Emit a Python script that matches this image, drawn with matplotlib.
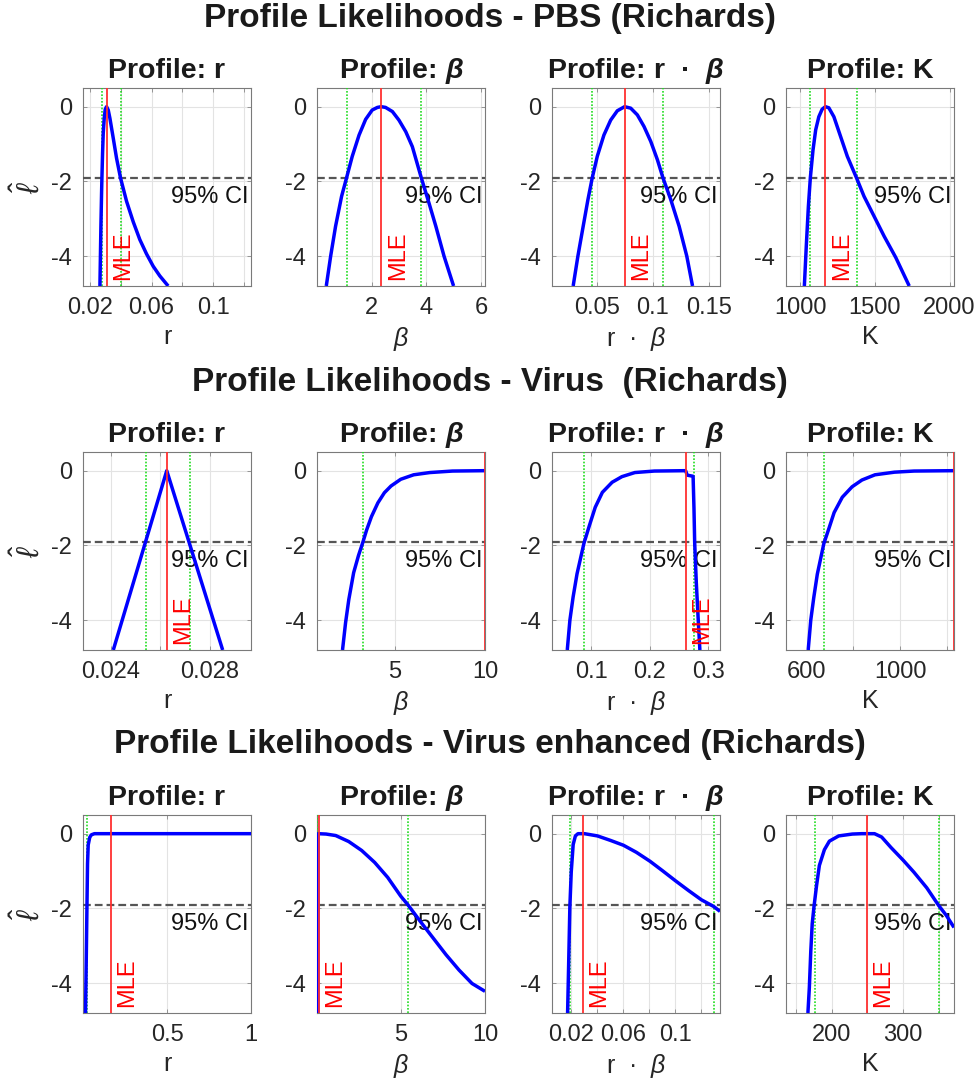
import matplotlib
matplotlib.use("Agg")
import matplotlib.pyplot as plt
import matplotlib.transforms as mtransforms

plt.rcParams['font.family'] = ['Liberation Sans', 'DejaVu Sans']
plt.rcParams['mathtext.fontset'] = 'custom'
plt.rcParams['mathtext.rm'] = 'Liberation Sans'
plt.rcParams['mathtext.it'] = 'Liberation Sans:italic'
plt.rcParams['mathtext.bf'] = 'Liberation Sans:bold'
plt.rcParams['mathtext.bfit'] = 'Liberation Sans:bold:italic'

# ---------------- data ----------------
row_titles = ['Profile Likelihoods - PBS (Richards)',
              'Profile Likelihoods - Virus  (Richards)',
              'Profile Likelihoods - Virus enhanced (Richards)']
panel_titles = ['Profile: r', r'Profile: $\mathbfit{\beta}$',
                r'Profile: r  ·  $\mathbfit{\beta}$', 'Profile: K']
x_labels = ['r', r'$\beta$', r'r  ·  $\beta$', 'K']
y_label = r'$\hat{\ell}$'
ci_threshold = -1.92

# PBS
pbs_r_x = [0.02649, 0.02713, 0.02756, 0.02778, 0.02821, 0.02864, 0.02929, 0.02994, 0.0308,
           0.03189, 0.03297, 0.03513, 0.03729, 0.03988, 0.04377, 0.0481, 0.05242, 0.05674,
           0.06106, 0.06538, 0.0708]
pbs_r_y = [-4.8, -3.2, -2.31, -1.91, -1.24, -0.71, -0.31, -0.07, 0.0,
           -0.09, -0.31, -0.84, -1.38, -1.91, -2.53, -3.08, -3.56, -3.94,
           -4.27, -4.53, -4.8]
pbs_beta_x = [0.34, 0.50, 0.68, 0.90, 1.08, 1.29, 1.54, 1.78, 2.02, 2.21, 2.35,
              2.51, 2.76, 3.00, 3.25, 3.49, 3.82, 4.10, 4.35, 4.65, 5.0]
pbs_beta_y = [-4.8, -4.0, -3.2, -2.4, -1.91, -1.33, -0.76, -0.34, -0.09, -0.02, 0.0,
              -0.02, -0.13, -0.36, -0.67, -1.07, -1.91, -2.58, -3.2, -4.0, -4.8]
pbs_rb_x = [0.0292, 0.0334, 0.0381, 0.0423, 0.0461, 0.0506, 0.0565, 0.0625, 0.0684, 0.0749,
            0.0803, 0.0862, 0.0921, 0.0981, 0.104, 0.109, 0.1159, 0.1233, 0.1301, 0.1352]
pbs_rb_y = [-4.8, -4.0, -3.2, -2.49, -1.91, -1.33, -0.76, -0.36, -0.11, 0.0,
            -0.04, -0.22, -0.53, -0.93, -1.42, -1.91, -2.49, -3.2, -4.0, -4.8]
pbs_K_x = [1027, 1040, 1054, 1067, 1085, 1103, 1124, 1146, 1168,
           1191, 1225, 1270, 1315, 1377, 1427, 1494, 1562, 1640, 1730]
pbs_K_y = [-4.8, -3.73, -2.67, -1.91, -1.16, -0.62, -0.27, -0.07, 0.0,
           -0.03, -0.27, -0.8, -1.33, -1.91, -2.4, -2.93, -3.47, -4.04, -4.8]
pbs_mle = [0.0308, 2.35, 0.0749, 1168]
pbs_ci_lo = [0.02778, 1.08, 0.0461, 1067]
pbs_ci_hi = [0.03988, 3.82, 0.109, 1377]

# Virus
vir_r_x = [0.02409, 0.02626, 0.02853]
vir_r_y = [-4.8, 0.0, -4.8]
vir_beta_x = [2.07, 2.24, 2.42, 2.69, 2.96, 3.18, 3.41, 3.68, 4.04, 4.40, 4.77, 5.31, 6.03,
              6.93, 8.19, 10.0]
vir_beta_y = [-4.8, -4.07, -3.45, -2.73, -2.27, -1.95, -1.59, -1.23, -0.86, -0.59, -0.41,
              -0.23, -0.11, -0.05, -0.01, 0.0]
vir_rb_x = [0.0594, 0.0639, 0.0694, 0.0761, 0.0878, 0.0972, 0.1072, 0.1194, 0.1361, 0.1528,
            0.175, 0.2083, 0.2617, 0.2645, 0.2745, 0.2760, 0.2772, 0.2800, 0.2833, 0.2861]
vir_rb_y = [-4.8, -4.0, -3.38, -2.76, -1.95, -1.47, -0.98, -0.58, -0.31, -0.16,
            -0.05, -0.01, 0.0, -0.12, -0.15, -1.0, -1.92, -3.0, -4.0, -4.8]
vir_K_x = [607, 618, 631, 646, 674, 695, 718, 753, 795, 837, 893, 976, 1060, 1231]
vir_K_y = [-4.8, -4.0, -3.39, -2.77, -1.95, -1.56, -1.12, -0.71, -0.43, -0.25, -0.11,
           -0.04, -0.01, 0.0]
vir_mle = [0.02626, 10.0, 0.2617, 1231]
vir_ci_lo = [0.02542, 3.19, 0.0878, 676]
vir_ci_hi = [0.02721, None, 0.2767, None]

# Virus enhanced
enh_r_x = [0.0150, 0.0190, 0.0236, 0.027, 0.031, 0.040, 0.050, 0.068, 1.0]
enh_r_y = [-4.8, -3.5, -1.92, -0.8, -0.3, -0.1, -0.03, 0.0, 0.0]
enh_beta_x = [0.096, 0.11, 0.58, 1.15, 1.92, 2.69, 3.46, 4.23, 5.0, 5.44, 6.15, 6.92, 7.69,
              8.46, 9.23, 10.0]
enh_beta_y = [-4.8, 0.0, -0.01, -0.05, -0.21, -0.45, -0.77, -1.17, -1.67, -1.91, -2.34,
              -2.79, -3.24, -3.65, -4.01, -4.22]
enh_rb_x = [0.0170, 0.0178, 0.01875, 0.0198, 0.0213, 0.023, 0.025, 0.030, 0.040, 0.050, 0.060,
            0.070, 0.0805, 0.090, 0.100, 0.110, 0.120, 0.1295, 0.1343]
enh_rb_y = [-4.8, -3.52, -1.95, -1.03, -0.29, -0.06, 0.0, 0.0, -0.06, -0.18, -0.31,
            -0.5, -0.74, -0.99, -1.26, -1.52, -1.77, -1.95, -2.08]
enh_K_x = [167, 169, 171, 173, 175.5, 179, 183, 190, 197, 210, 229, 242, 260, 270, 283, 300,
           315, 333, 349.5, 360, 371]
enh_K_y = [-4.8, -4.12, -3.15, -2.41, -1.95, -1.4, -0.85, -0.43, -0.2, -0.06, -0.01, 0.0,
           0.0, -0.09, -0.37, -0.71, -1.03, -1.45, -1.92, -2.18, -2.51]
enh_mle = [0.165, 0.154, 0.0288, 249]
enh_ci_lo = [0.0236, 0.06, 0.01875, 176.5]
enh_ci_hi = [None, 5.44, 0.1295, 349.5]

# axis ranges, tick labels
x_limits = [[(0.0155, 0.1246), (0.0, 6.15), (0.0104, 0.1596), (904, 2030)],
            [(0.02286, 0.02968), (0.65, 10.0), (0.0333, 0.3205), (512, 1231)],
            [(0.0, 1.0), (0.04, 10.0), (0.005, 0.1343), (136.4, 371)]]
x_ticks = [[[0.02, 0.06, 0.1], [2, 4, 6], [0.05, 0.1, 0.15], [1000, 1500, 2000]],
           [[0.024, 0.028], [5, 10], [0.1, 0.2, 0.3], [600, 1000]],
           [[0.5, 1.0], [5, 10], [0.02, 0.06, 0.1], [200, 300]]]
x_tick_labels = [[['0.02', '0.06', '0.1'], ['2', '4', '6'], ['0.05', '0.1', '0.15'], ['1000', '1500', '2000']],
                 [['0.024', '0.028'], ['5', '10'], ['0.1', '0.2', '0.3'], ['600', '1000']],
                 [['0.5', '1'], ['5', '10'], ['0.02', '0.06', '0.1'], ['200', '300']]]
x_minor = [[[0.04, 0.08, 0.12], [], [], []],
           [[0.026], [], [], [800, 1200]],
           [[], [], [0.04, 0.08, 0.12], [150, 250, 350]]]
y_ticks = [-4, -2, 0]
y_tick_labels = ['-4', '-2', '0']

curves = [[(pbs_r_x, pbs_r_y), (pbs_beta_x, pbs_beta_y), (pbs_rb_x, pbs_rb_y), (pbs_K_x, pbs_K_y)],
          [(vir_r_x, vir_r_y), (vir_beta_x, vir_beta_y), (vir_rb_x, vir_rb_y), (vir_K_x, vir_K_y)],
          [(enh_r_x, enh_r_y), (enh_beta_x, enh_beta_y), (enh_rb_x, enh_rb_y), (enh_K_x, enh_K_y)]]
mles = [pbs_mle, vir_mle, enh_mle]
ci_los = [pbs_ci_lo, vir_ci_lo, enh_ci_lo]
ci_his = [pbs_ci_hi, vir_ci_hi, enh_ci_hi]

# ---------------- layout ----------------
W, H = 979, 1083
fig = plt.figure(figsize=(W / 100, H / 100), dpi=100)
col_left = [83, 317, 552, 786]
row_top = [88, 452, 815]
ax_w, ax_h = 168, 198
sup_y = [18, 382, 745]

for i in range(3):
    fig.text(0.5, 1 - sup_y[i] / H, row_titles[i], ha='center', va='center',
             fontsize=24, fontweight='bold', color='#1a1a1a')
    for j in range(4):
        ax = fig.add_axes([col_left[j] / W, 1 - (row_top[i] + ax_h) / H, ax_w / W, ax_h / H])
        x, y = curves[i][j]
        xlo, xhi = x_limits[i][j]
        ax.plot(x, y, color='#0000ff', lw=2.5, zorder=4, solid_joinstyle='round',
                solid_capstyle='butt')
        ax.axhline(ci_threshold, color='#555555', lw=1.6, ls=(0, (3.5, 1.8)), zorder=3)
        for c in (ci_los[i][j], ci_his[i][j]):
            if c is not None:
                ax.axvline(c, color='#22dd22', lw=1.2, ls=(0, (1, 1)), zorder=3)
        m = mles[i][j]
        ax.axvline(m, color='#ff3030', lw=1.3, zorder=5)
        if m < xhi - 0.02 * (xhi - xlo):
            off = mtransforms.ScaledTranslation(4 / 72, 0, fig.dpi_scale_trans)
            ax.text(m, -4.65, 'MLE', transform=ax.transData + off, rotation=90,
                    ha='left', va='bottom', color='#ff0000', fontsize=17, zorder=6)
        ax.text(0.985, -2.12, '95% CI',
                transform=mtransforms.blended_transform_factory(ax.transAxes, ax.transData),
                ha='right', va='top', fontsize=17, color='#111111', zorder=3.5)
        ax.set_xlim(xlo, xhi)
        ax.set_ylim(-4.8, 0.5)
        ax.set_xticks(x_ticks[i][j])
        ax.set_xticklabels(x_tick_labels[i][j])
        ax.set_xticks(x_minor[i][j], minor=True)
        ax.set_yticks(y_ticks)
        ax.set_yticklabels(y_tick_labels)
        ax.grid(True, which='both', color='#e3e3e3', lw=0.8, zorder=0)
        ax.set_axisbelow(True)
        ax.tick_params(axis='both', which='both', direction='in', length=3, width=0.6,
                       top=True, right=True, labelsize=17, pad=8)
        ax.tick_params(axis='both', which='both', colors='#888888', labelcolor='#262626')
        for s in ax.spines.values():
            s.set_color('#7a7a7a')
            s.set_linewidth(0.8)
        ax.set_title(panel_titles[j], fontsize=20.5, fontweight='bold', pad=7, color='#1a1a1a')
        ax.set_xlabel(x_labels[j], fontsize=18, labelpad=4, color='#262626')
        if j == 0:
            ax.set_ylabel(y_label, fontsize=22, labelpad=4, color='#262626')

fig.savefig('out.png', dpi=100, facecolor='white')
